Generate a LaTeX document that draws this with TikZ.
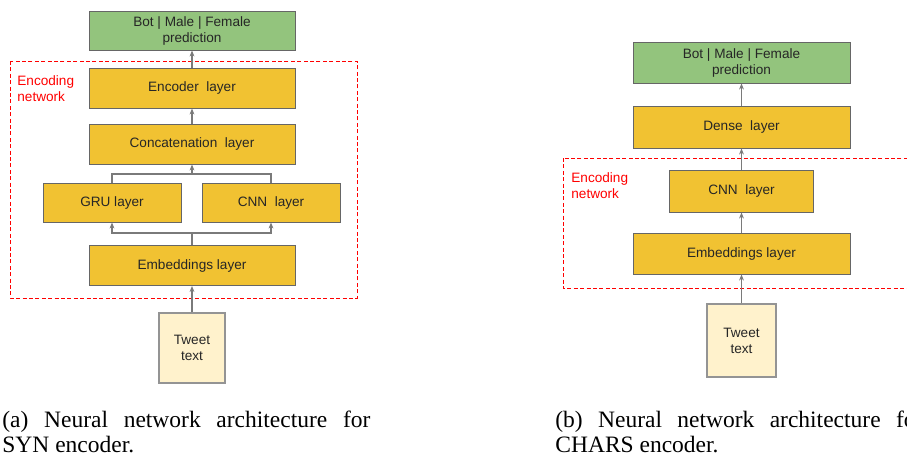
\documentclass[tikz,border=0pt]{standalone}
\usepackage{fontspec}
\setmainfont{Liberation Serif}
\setsansfont{Liberation Sans}
\usetikzlibrary{positioning, arrows.meta}
\definecolor{gdyellow}{HTML}{F1C232}
\definecolor{gdgreen}{HTML}{93C47D}
\definecolor{gdcream}{HTML}{FFF2CC}
\definecolor{gdgray}{HTML}{666666}
\definecolor{gdwire}{HTML}{7A7A7A}
\definecolor{gdred}{HTML}{FF0000}

\begin{document}
\begin{tikzpicture}[
    x=0.5pt, y=-0.5pt,
    >={Stealth[length=3pt, width=2.4pt]},
    font=\sffamily\fontsize{6.8}{8}\selectfont,
    layer/.style={draw=gdgray, fill=gdyellow, line width=0.5pt, inner sep=0pt, text=black!85},
    output/.style={layer, fill=gdgreen, align=center},
    source/.style={draw=gdgray!70, fill=gdcream, line width=0.6pt, inner sep=0pt, align=center, text=black!85},
    flow/.style={draw=gdwire, line width=0.6pt, ->},
    wire/.style={draw=gdwire, line width=0.6pt},
    encbox/.style={draw=gdred, line width=0.5pt, dash pattern=on 2pt off 1.2pt},
    enclabel/.style={text=gdred, align=left, anchor=west, inner sep=0pt},
    capline/.style={font=\rmfamily\fontsize{11.75}{13}\selectfont, anchor=base west, inner sep=0pt},
  ]
  \useasboundingbox (0,0) rectangle (907,456);

  % ----- (a) SYN encoder -----
  \draw[encbox] (10,61) rectangle (357,298);
  \node[enclabel] (encA) at (17,89) {Encoding\\network};

  \node[output, minimum width=103pt, minimum height=19.5pt] (predA) at (192,30.5) {Bot | Male | Female\\prediction};
  \node[layer, minimum width=103pt, minimum height=20pt] (encoder) at (192,88) {Encoder~~layer};
  \node[layer, minimum width=103pt, minimum height=20pt] (concat) at (192,144) {Concatenation~~layer};
  \node[layer, minimum width=69pt, minimum height=19.5pt] (gru) at (112,202.5) {GRU layer};
  \node[layer, minimum width=69pt, minimum height=19.5pt] (cnnA) at (271,202.5) {CNN~~layer};
  \node[layer, minimum width=103pt, minimum height=20pt] (embA) at (192,265.5) {Embeddings layer};
  \node[source, minimum width=33pt, minimum height=35pt] (tweetA) at (192,348) {Tweet\\text};

  \coordinate (split) at (192,233);
  \coordinate (merge) at (192,174);

  % ----- wiring (a) -----
  \draw[flow] (tweetA) -- (embA);
  \draw[wire] (embA) -- (split);
  \draw[flow] (split) -| (gru);
  \draw[flow] (split) -| (cnnA);
  \draw[wire] (gru) |- (merge);
  \draw[wire] (cnnA) |- (merge);
  \draw[flow] (merge) -- (concat);
  \draw[flow] (concat) -- (encoder);
  \draw[flow] (encoder) -- (predA);

  % ----- (b) CHARS encoder -----
  \draw[encbox] (563,158) rectangle (935,288);
  \node[enclabel] (encB) at (571,186) {Encoding\\network};

  \node[output, minimum width=108.5pt, minimum height=20.5pt] (predB) at (741.5,62.5) {Bot | Male | Female\\prediction};
  \node[layer, minimum width=108.5pt, minimum height=21pt] (dense) at (741.5,127) {Dense~~layer};
  \node[layer, minimum width=72pt, minimum height=21pt] (cnnB) at (741.5,191) {CNN~~layer};
  \node[layer, minimum width=108.5pt, minimum height=20.5pt] (embB) at (741.5,253.5) {Embeddings layer};
  \node[source, minimum width=34.5pt, minimum height=36.5pt] (tweetB) at (741.5,340.5) {Tweet\\text};

  % ----- wiring (b) -----
  \draw[flow] (tweetB) -- (embB);
  \draw[flow] (embB) -- (cnnB);
  \draw[flow] (cnnB) -- (dense);
  \draw[flow] (dense) -- (predB);

  % ----- captions -----
  \node[capline] (capA1) at (2,427) {\makebox[184pt][s]{(a) Neural network architecture for}};
  \node[capline] (capA2) at (2,452) {SYN encoder.};
  \node[capline] (capB1) at (555,427) {\makebox[184pt][s]{(b) Neural network architecture for}};
  \node[capline] (capB2) at (555,452) {CHARS encoder.};

\end{tikzpicture}
\end{document}
